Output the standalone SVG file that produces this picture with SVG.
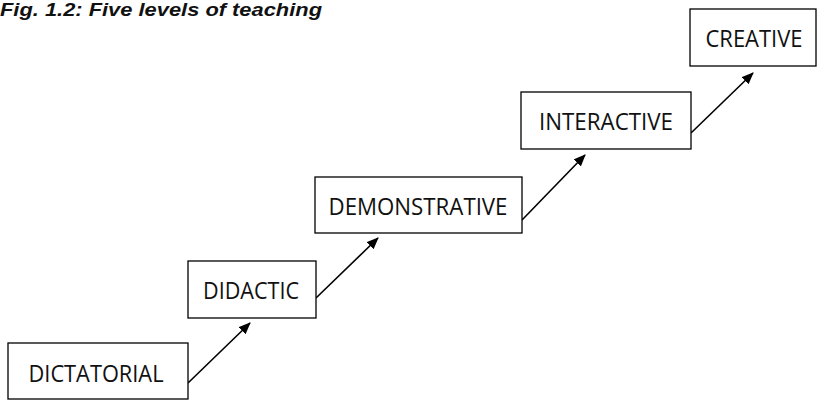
<svg xmlns="http://www.w3.org/2000/svg" width="817" height="401" viewBox="0 0 817 401">
<style>
.box{fill:#fff;stroke:#000;stroke-width:1.3}
.lbl{font-family:"Open Sans","Liberation Sans",Arial,sans-serif;font-size:23.5px;fill:#111;text-anchor:middle}
.title{font-family:"Liberation Sans",Arial,sans-serif;font-size:19px;font-weight:bold;font-style:italic;fill:#111}
.conn{stroke:#000;stroke-width:1.6;fill:none;marker-end:url(#ah)}
</style>
<defs>
<marker id="ah" viewBox="0 0 12 10" refX="11" refY="5" markerWidth="12" markerHeight="10" markerUnits="userSpaceOnUse" orient="auto">
<path d="M0,0 L12,5 L0,10 z" fill="#000"/>
</marker>
</defs>
<rect width="817" height="401" fill="#fff"/>
<text class="title" x="0" y="16" textLength="322" lengthAdjust="spacingAndGlyphs">Fig. 1.2: Five levels of teaching</text>
<g id="connectors">
<line class="conn" x1="188" y1="383" x2="250" y2="323"/>
<line class="conn" x1="316" y1="298" x2="378" y2="238"/>
<line class="conn" x1="522" y1="220" x2="585" y2="155"/>
<line class="conn" x1="691" y1="133" x2="753" y2="73"/>
</g>
<g id="dictatorial">
<rect class="box" x="8" y="343" width="180" height="56"/>
<text class="lbl" x="96" y="382" textLength="135" lengthAdjust="spacingAndGlyphs">DICTATORIAL</text>
</g>
<g id="didactic">
<rect class="box" x="188" y="261" width="128" height="57"/>
<text class="lbl" x="251" y="299" textLength="96" lengthAdjust="spacingAndGlyphs">DIDACTIC</text>
</g>
<g id="demonstrative">
<rect class="box" x="315" y="177" width="207" height="56"/>
<text class="lbl" x="418" y="215" textLength="179" lengthAdjust="spacingAndGlyphs">DEMONSTRATIVE</text>
</g>
<g id="interactive">
<rect class="box" x="521" y="92" width="170" height="57"/>
<text class="lbl" x="606" y="130" textLength="134" lengthAdjust="spacingAndGlyphs">INTERACTIVE</text>
</g>
<g id="creative">
<rect class="box" x="690" y="9" width="126" height="57"/>
<text class="lbl" x="754" y="47" textLength="97" lengthAdjust="spacingAndGlyphs">CREATIVE</text>
</g>
</svg>
